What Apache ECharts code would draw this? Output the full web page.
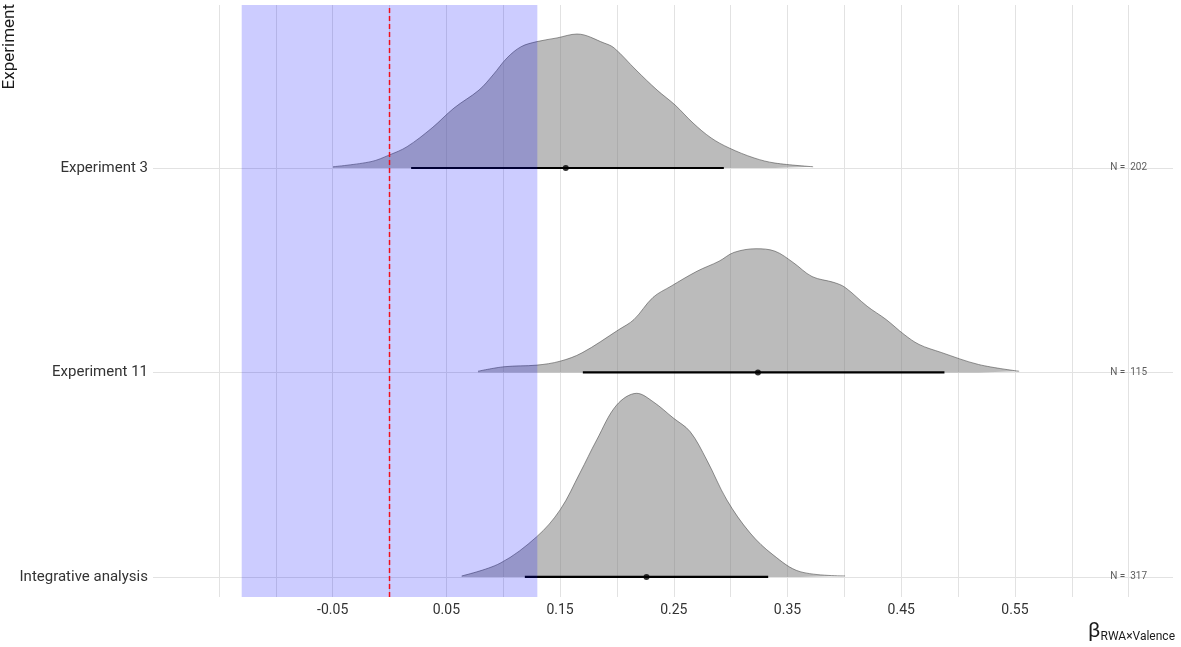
<!DOCTYPE html>
<html><head><meta charset="utf-8">
<script src="https://cdn.jsdelivr.net/npm/echarts@6/dist/echarts.min.js"></script>
<style>html,body{margin:0;padding:0;background:#fff}#c{width:1181px;height:647px}</style>
</head><body><div id="c"></div>
<script>
// categories from bottom (0) to top (2)
const categories = ['Integrative analysis', 'Experiment 11', 'Experiment 3'];
const sampleN = [317, 115, 202];
const medians = [0.226, 0.324, 0.155];
const ciLow = [0.119, 0.170, 0.019];
const ciHigh = [0.333, 0.488, 0.294];

// posterior density curves (x value, height in row units)
const integX = [0.0635,0.0972,0.1295,0.1500,0.1675,0.1822,0.1998,0.2174,0.2318,0.2494,0.2643,0.2790,0.2966,0.3171,0.3373,0.3610,0.4006];
const integH = [0.005,0.067,0.197,0.328,0.509,0.670,0.841,0.898,0.857,0.778,0.711,0.572,0.377,0.215,0.108,0.026,0.005];
const exp11X = [0.0778,0.1007,0.1297,0.1500,0.1693,0.2018,0.2150,0.2317,0.2476,0.2704,0.2898,0.3029,0.3223,0.3390,0.3549,0.3716,0.3909,0.4006,0.4200,0.4367,0.4525,0.4657,0.4851,0.5180,0.5537];
const exp11H = [0.006,0.028,0.036,0.055,0.096,0.210,0.259,0.367,0.422,0.495,0.544,0.587,0.605,0.593,0.538,0.469,0.440,0.416,0.324,0.259,0.186,0.137,0.098,0.039,0.006];
const exp3X = [-0.0497,-0.0163,0.0000,0.0154,0.0374,0.0567,0.0787,0.0910,0.1033,0.1157,0.1297,0.1473,0.1649,0.1887,0.1975,0.2168,0.2353,0.2511,0.2669,0.2828,0.2986,0.3206,0.3390,0.3725];
const exp3H = [0.006,0.031,0.064,0.104,0.196,0.293,0.381,0.455,0.538,0.593,0.618,0.636,0.655,0.611,0.587,0.479,0.381,0.308,0.220,0.147,0.098,0.049,0.024,0.006];

const densX = [integX, exp11X, exp3X];
const densH = [integH, exp11H, exp3H];

const ropeLow = -0.13, ropeHigh = 0.13;
const zeroLine = 0;
const xTickLabels = [-0.05, 0.05, 0.15, 0.25, 0.35, 0.45, 0.55];
const xGridValues = [-0.15,-0.10,-0.05,0.00,0.05,0.10,0.15,0.20,0.25,0.30,0.35,0.40,0.45,0.50,0.55,0.60,0.65];
const nLabelX = 0.65;
const xMin = -0.208, xMax = 0.689, yMin = -0.098, yMax = 2.797;

const chart = echarts.init(document.getElementById('c'), null, {renderer: 'canvas'});
const FONT = 'Roboto';

const series = [];
// grid lines
series.push({
  type: 'line', data: [], z: 1, silent: true,
  markLine: {
    z: 1, silent: true, symbol: ['none', 'none'], label: {show: false},
    lineStyle: {color: '#e2e2e2', width: 1, type: 'solid'},
    emphasis: {disabled: true},
    data: xGridValues.map(v => ({xAxis: v})).concat(categories.map((c, i) => ({yAxis: i})))
  }
});
// densities
categories.forEach((c, i) => {
  series.push({
    type: 'line', name: c, smooth: 0.35, symbol: 'none', z: 2, silent: true,
    data: densX[i].map((x, j) => [x, i + densH[i][j]]),
    lineStyle: {color: 'rgba(80,80,80,0.6)', width: 1},
    areaStyle: {color: 'rgba(120,120,120,0.5)', origin: i, opacity: 1}
  });
});
// intervals
categories.forEach((c, i) => {
  series.push({
    type: 'line', symbol: 'none', z: 3, silent: true,
    data: [[ciLow[i], i], [ciHigh[i], i]],
    lineStyle: {color: '#000', width: 2.2}
  });
});
// medians
series.push({
  type: 'scatter', z: 4, silent: true, symbolSize: 6,
  itemStyle: {color: '#000'},
  data: medians.map((m, i) => [m, i])
});
// N labels
series.push({
  type: 'scatter', z: 4, silent: true, symbolSize: 0,
  data: sampleN.map((n, i) => [nLabelX, i]),
  label: {show: true, position: 'inside', formatter: p => 'N =  ' + sampleN[p.dataIndex],
          fontSize: 10, color: '#333', fontFamily: FONT}
});
// ROPE
series.push({
  type: 'line', data: [], z: 6, silent: true,
  markArea: {z: 6, silent: true, itemStyle: {color: 'rgba(0,0,255,0.2)'},
    data: [[{xAxis: ropeLow}, {xAxis: ropeHigh}]]}
});
// zero line
series.push({
  type: 'line', z: 10, silent: true, symbol: 'none',
  data: [[zeroLine, yMin], [zeroLine, yMax]],
  lineStyle: {color: '#f0101c', width: 1.5, type: [5, 3]}
});

chart.setOption({
  animation: false,
  grid: {left: 153, right: 8, top: 5, bottom: 50},
  xAxis: {
    type: 'value', min: xMin, max: xMax,
    axisLine: {show: false}, axisTick: {show: false}, splitLine: {show: false},
    axisLabel: {customValues: xTickLabels, formatter: v => v.toFixed(2),
      fontSize: 14, color: '#333', margin: 6, fontFamily: FONT}
  },
  yAxis: {
    type: 'value', min: yMin, max: yMax,
    axisLine: {show: false}, axisTick: {show: false}, splitLine: {show: false},
    axisLabel: {customValues: [0, 1, 2], formatter: v => categories[Math.round(v)],
      fontSize: 15, color: '#333', margin: 5, fontFamily: FONT}
  },
  graphic: [
    {type: 'text', x: 10, y: 4, rotation: Math.PI / 2,
     style: {text: 'Experiment', fontSize: 17, fontFamily: FONT, fill: '#1a1a1a',
             align: 'right', verticalAlign: 'middle'}},
    {type: 'text', x: 1175, y: 632,
     style: {text: '{b|β}{s|RWA×Valence}', align: 'right', verticalAlign: 'middle',
       rich: {b: {fontSize: 21, fontFamily: FONT, fill: '#1a1a1a', verticalAlign: 'bottom'},
              s: {fontSize: 12, fontFamily: FONT, fill: '#1a1a1a', verticalAlign: 'bottom'}}}}
  ],
  series: series
});
</script>
</body></html>
